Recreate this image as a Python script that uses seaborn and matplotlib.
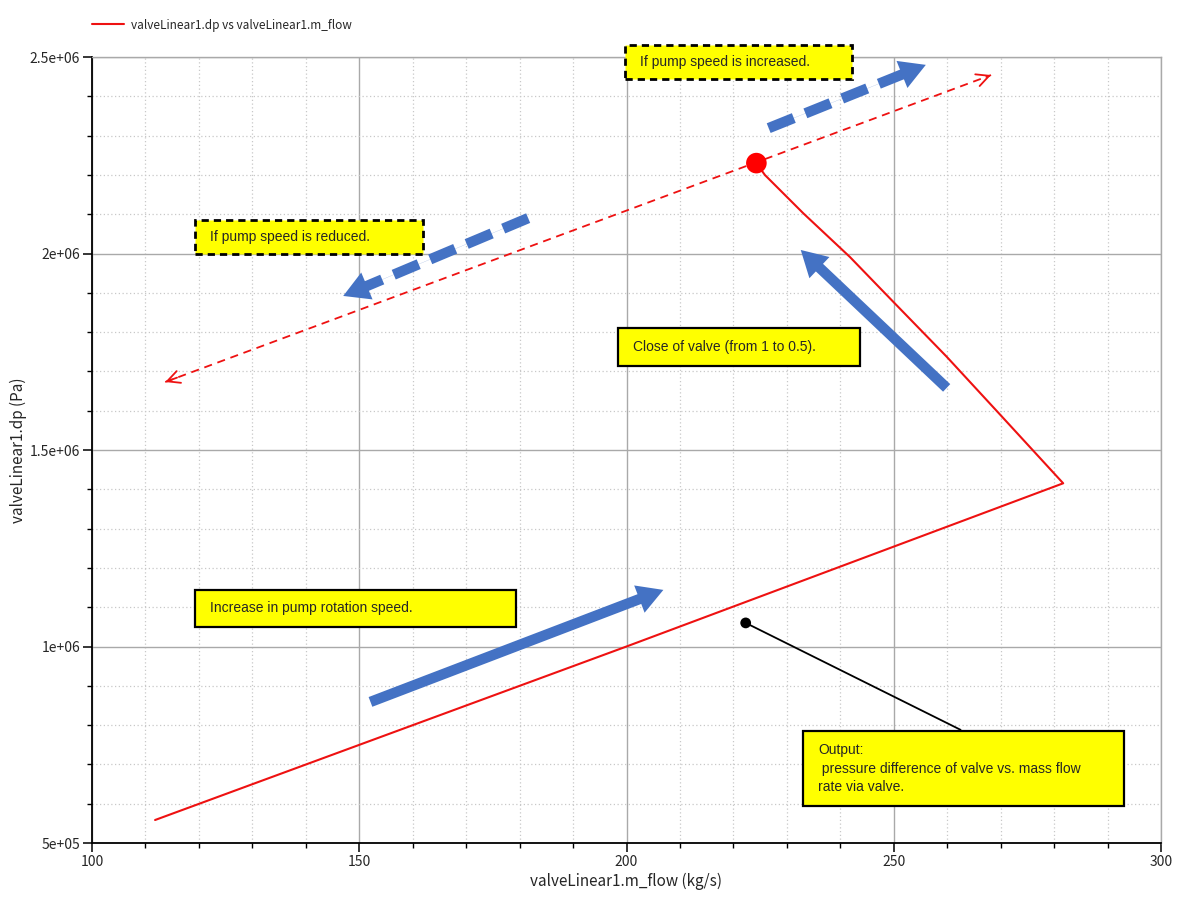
import numpy as np
import pandas as pd
import matplotlib
matplotlib.use("Agg")
import matplotlib.pyplot as plt
import seaborn as sns
from matplotlib.patches import Rectangle
from matplotlib.ticker import MultipleLocator

# ---------------- data ----------------
m_flow = [111.8, 200.0, 281.7, 269.9, 259.9, 250.2, 241.8, 233.1, 225.9, 224.3]
dp = [5.585e5, 1.0e6, 1.4153e6, 1.590e6, 1.7374e6, 1.873e6, 1.9911e6, 2.102e6,
      2.1997e6, 2.230e6]
series_label = "valveLinear1.dp vs valveLinear1.m_flow"

end_x = [224.3]
end_y = [2.230e6]

ext_x = [113.7, 268.2]          # dashed extension (pump speed change)
ext_y = [1.673e6, 2.454e6]

out_x = [222.3, 262.5]          # pointer to "Output" box
out_y = [1.06e6, 7.88e5]

# blue arrows
arrow_x0 = [152.1, 259.9, 226.6, 181.6]
arrow_y0 = [8.59e5, 1.658e6, 2.319e6, 2.090e6]
arrow_x1 = [206.9, 232.6, 256.0, 147.0]
arrow_y1 = [1.144e6, 2.009e6, 2.480e6, 1.892e6]
arrow_dashed = [False, False, True, True]

# annotation boxes
box_x0 = [199.8, 119.3, 198.5, 119.3, 233.0]
box_x1 = [242.1, 162.0, 243.6, 179.4, 293.1]
box_y0 = [2.444e6, 1.9987e6, 1.7137e6, 1.0496e6, 5.94e5]
box_y1 = [2.5305e6, 2.085e6, 1.8104e6, 1.1438e6, 7.85e5]
box_dashed = [True, True, False, False, False]
box_text = ["If pump speed is increased.",
            "If pump speed is reduced.",
            "Close of valve (from 1 to 0.5).",
            "Increase in pump rotation speed.",
            "Output:\n pressure difference of valve vs. mass flow\nrate via valve."]

x_ticks = [100, 150, 200, 250, 300]
x_ticklabels = ["100", "150", "200", "250", "300"]
y_ticks = [5e5, 1e6, 1.5e6, 2e6, 2.5e6]
y_ticklabels = ["5e+05", "1e+06", "1.5e+06", "2e+06", "2.5e+06"]

# ---------------- style ----------------
sns.set_style("ticks")
plt.rcParams['font.family'] = ['Noto Sans CJK JP', 'DejaVu Sans']

W, H = 1181, 897
fig = plt.figure(figsize=(W / 100, H / 100), dpi=100)
ax = fig.add_axes([92 / W, 1 - 843 / H, (1161 - 92) / W, (843 - 57) / H])
ax.set_xlim(100, 300)
ax.set_ylim(5e5, 2.5e6)

RED = "#ee1111"
BLUE = "#4472C4"

df = pd.DataFrame({"m_flow": m_flow, "dp": dp})
sns.lineplot(data=df, x="m_flow", y="dp", sort=False, estimator=None,
             color=RED, lw=1.5, ax=ax, label=series_label, zorder=4)

# dashed extension line
ax.plot(ext_x, ext_y, color=RED, lw=1.3, ls=(0, (4.5, 3.2)), zorder=4)
for xe, ye in zip(ext_x, ext_y):
    ax.annotate("", xy=(xe, ye),
                xytext=(xe + (end_x[0] - xe) * 0.02, ye + (end_y[0] - ye) * 0.02),
                arrowprops=dict(arrowstyle="->,head_length=0.9,head_width=0.45",
                                color=RED, lw=1.3, shrinkA=0, shrinkB=0),
                zorder=4)

# red end dot
sns.scatterplot(x=end_x, y=end_y, color="red", s=220, edgecolor="none", ax=ax,
                zorder=6, legend=False)

# black pointer
ax.plot(out_x, out_y, color="black", lw=1.3, zorder=4)
sns.scatterplot(x=out_x[:1], y=out_y[:1], color="black", s=60, edgecolor="none",
                ax=ax, zorder=6, legend=False)

# blue arrows
head_len_pt = 18.5
head_len_px = head_len_pt * 100 / 72
for x0, y0, x1, y1, dashed in zip(arrow_x0, arrow_y0, arrow_x1, arrow_y1, arrow_dashed):
    p0 = ax.transData.transform((x0, y0))
    p1 = ax.transData.transform((x1, y1))
    d = (p1 - p0) / np.linalg.norm(p1 - p0)
    base = ax.transData.inverted().transform(p1 - d * head_len_px * 0.95)
    if dashed:
        ax.plot([x0, base[0]], [y0, base[1]], color=BLUE, lw=7.5,
                ls=(0, (2.6, 1.2)), dash_capstyle="butt", zorder=5)
    else:
        ax.plot([x0, base[0]], [y0, base[1]], color=BLUE, lw=7.5,
                solid_capstyle="butt", zorder=5)
    ax.annotate("", xy=(x1, y1), xytext=(x0, y0),
                arrowprops=dict(arrowstyle="simple,head_length=1.85,head_width=2.1,tail_width=0.01",
                                color=BLUE, lw=0, mutation_scale=10,
                                shrinkA=0, shrinkB=0),
                zorder=5)

# annotation boxes
pad = 15 / 5.345
for bx0, bx1, by0, by1, dsh, txt in zip(box_x0, box_x1, box_y0, box_y1, box_dashed, box_text):
    rect = Rectangle((bx0, by0), bx1 - bx0, by1 - by0, facecolor="#ffff00",
                     edgecolor="black", lw=2.0 if dsh else 1.6,
                     ls=(0, (2.6, 1.8)) if dsh else "-",
                     clip_on=False, zorder=7)
    ax.add_patch(rect)
    ax.text(bx0 + pad, (by0 + by1) / 2, txt, ha="left", va="center",
            fontsize=10, family=["Liberation Sans", "DejaVu Sans"],
            linespacing=1.45, zorder=8, clip_on=False)

# axes, grid, ticks
ax.set_xticks(x_ticks)
ax.set_xticklabels(x_ticklabels)
ax.set_yticks(y_ticks)
ax.set_yticklabels(y_ticklabels)
ax.xaxis.set_minor_locator(MultipleLocator(10))
ax.yaxis.set_minor_locator(MultipleLocator(1e5))
ax.grid(which="major", color="#a9a9a9", lw=1.0, ls="-")
ax.grid(which="minor", color="#c8c8c8", lw=0.9, ls=(0, (1, 2)))
ax.set_axisbelow(True)
ax.tick_params(which="major", direction="out", length=6.5, width=1.1,
               color="black", labelsize=10, pad=2)
ax.tick_params(which="minor", direction="out", length=3.5, width=1.0,
               color="black")
for s in ["left", "bottom"]:
    ax.spines[s].set_color("black")
    ax.spines[s].set_linewidth(1.3)
for s in ["top", "right"]:
    ax.spines[s].set_color("#a9a9a9")
    ax.spines[s].set_linewidth(1.0)

ax.set_xlabel("valveLinear1.m_flow (kg/s)", fontsize=11, labelpad=3)
ax.set_ylabel("valveLinear1.dp (Pa)", fontsize=11, labelpad=2)

ax.legend(loc="center left", bbox_to_anchor=(0.0, 1 + 32 / 786), frameon=False,
          borderaxespad=0, borderpad=0, handlelength=2.7, handletextpad=0.6,
          fontsize=8.5)

fig.savefig("out.png", dpi=100)
